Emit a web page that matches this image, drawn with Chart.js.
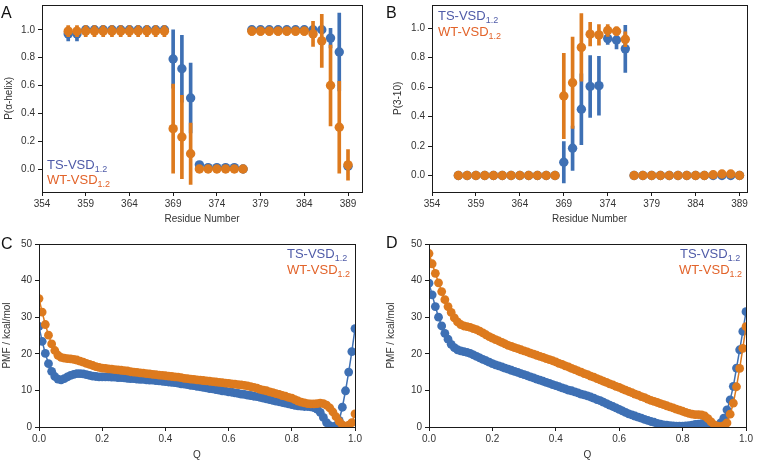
<!DOCTYPE html>
<html><head><meta charset="utf-8">
<script src="https://cdn.jsdelivr.net/npm/chart.js@4.4.0/dist/chart.umd.min.js"></script>
<style>
html,body{margin:0;padding:0;background:#fff;}
#wrap{position:relative;width:757px;height:465px;overflow:hidden;font-family:"Liberation Sans",Arial,Helvetica,sans-serif;}
canvas{position:absolute;}
.lbl{position:absolute;font-size:16px;line-height:16px;color:#111;}
.leg{position:absolute;font-size:13px;line-height:13px;white-space:nowrap;}
.leg sub{font-size:9px;vertical-align:baseline;position:relative;top:3px;}
.ts{color:#4f5ba8}.wt{color:#e2632a}
</style></head>
<body>
<div id="wrap">
<canvas id="cA" width="380" height="230" style="left:0;top:0"></canvas>
<canvas id="cB" width="377" height="230" style="left:380px;top:0"></canvas>
<canvas id="cC" width="380" height="235" style="left:0;top:230px"></canvas>
<canvas id="cD" width="377" height="235" style="left:380px;top:230px"></canvas>
<div class="lbl" style="left:1px;top:5px">A</div>
<div class="lbl" style="left:386px;top:5px">B</div>
<div class="lbl" style="left:1px;top:236px">C</div>
<div class="lbl" style="left:386px;top:235px">D</div>
<div class="leg ts" style="left:47px;top:157.5px">TS-VSD<sub>1.2</sub></div>
<div class="leg wt" style="left:47px;top:172.5px">WT-VSD<sub>1.2</sub></div>
<div class="leg ts" style="left:438px;top:9px">TS-VSD<sub>1.2</sub></div>
<div class="leg wt" style="left:438px;top:25px">WT-VSD<sub>1.2</sub></div>
<div class="leg ts" style="left:287px;top:246.5px">TS-VSD<sub>1.2</sub></div>
<div class="leg wt" style="left:287px;top:263px">WT-VSD<sub>1.2</sub></div>
<div class="leg ts" style="left:680px;top:246.5px">TS-VSD<sub>1.2</sub></div>
<div class="leg wt" style="left:679px;top:263px">WT-VSD<sub>1.2</sub></div>
</div>
<script>
// ---------- data ----------
const residues = [357,358,359,360,361,362,363,364,365,366,367,368,369,370,371,372,373,374,375,376,377,378,379,380,381,382,383,384,385,386,387,388,389];

// Panel A: P(alpha-helix)
const tsAlpha    = [0.97,0.97,1.0,1.0,1.0,1.0,1.0,1.0,1.0,1.0,1.0,1.0, 0.79,0.72,0.51, 0.03,0.01,0.01,0.01,0.01,0.0, 1.0,1.0,1.0,1.0,1.0,1.0,1.0, 1.0,1.0,0.94,0.84,0.02];
const tsAlphaErr = [0.05,0.05,0.01,0.01,0.01,0.01,0.01,0.01,0.01,0.01,0.01,0.01, 0.21,0.24,0.25, 0.02,0.01,0.01,0.01,0.01,0.0, 0.01,0.01,0.01,0.01,0.01,0.01,0.01, 0.01,0.01,0.07,0.28,0.02];
const wtAlpha    = [0.99,0.99,0.99,0.99,0.99,0.99,0.99,0.99,0.99,0.99,0.99,0.99, 0.29,0.23,0.11, 0,0,0,0,0,0, 0.99,0.99,0.99,0.99,0.99,0.99,0.99, 0.97,0.92,0.60,0.30,0.03];
const wtAlphaErr = [0.04,0.04,0.04,0.04,0.04,0.04,0.04,0.04,0.04,0.04,0.04,0.04, 0.32,0.30,0.22, 0.005,0.005,0.005,0.005,0.005,0.005, 0.03,0.03,0.03,0.03,0.03,0.03,0.03, 0.09,0.19,0.29,0.33,0.11];

// Panel B: P(3-10)
const ts310    = [0,0,0,0,0,0,0,0,0,0,0,0, 0.09,0.185,0.45,0.605,0.61,0.93,0.92,0.86, 0,0,0,0,0,0,0,0,0,0,0,0,0];
const ts310Err = [0,0,0,0,0,0,0,0,0,0,0,0, 0.14,0.15,0.24,0.21,0.20,0.04,0.06,0.16, 0,0,0,0,0,0,0,0,0,0,0,0,0];
const wt310    = [0,0,0,0,0,0,0,0,0,0,0,0, 0.54,0.63,0.87,0.96,0.955,0.985,0.98,0.925, 0,0,0,0,0,0,0,0,0,0.005,0.01,0.01,0];
const wt310Err = [0,0,0,0,0,0,0,0,0,0,0,0, 0.29,0.31,0.23,0.08,0.07,0.04,0.03,0.05, 0,0,0,0,0,0,0,0,0,0,0,0,0];

// Panels C, D: PMF vs Q
const qValues = [0,0.01,0.02,0.03,0.04,0.05,0.06,0.07,0.08,0.09,0.10,0.11,0.12,0.13,0.14,0.15,0.16,0.17,0.18,0.19,0.20,0.21,0.22,0.23,0.24,0.25,0.26,0.27,0.28,0.29,0.30,0.31,0.32,0.33,0.34,0.35,0.36,0.37,0.38,0.39,0.40,0.41,0.42,0.43,0.44,0.45,0.46,0.47,0.48,0.49,0.50,0.51,0.52,0.53,0.54,0.55,0.56,0.57,0.58,0.59,0.60,0.61,0.62,0.63,0.64,0.65,0.66,0.67,0.68,0.69,0.70,0.71,0.72,0.73,0.74,0.75,0.76,0.77,0.78,0.79,0.80,0.81,0.82,0.83,0.84,0.85,0.86,0.87,0.88,0.89,0.90,0.91,0.92,0.93,0.94,0.95,0.96,0.97,0.98,0.99,1.00];

const tsPmfC = [27.5,23.4,20.1,17.3,15.2,13.8,13.1,12.9,13.2,13.7,
 14.1,14.4,14.6,14.6,14.5,14.3,14.1,13.9,13.8,13.7,
 13.7,13.7,13.7,13.6,13.6,13.5,13.5,13.4,13.3,13.2,
 13.2,13.1,13.0,13.0,12.9,12.8,12.8,12.7,12.6,12.5,
 12.4,12.3,12.2,12.1,12.0,11.8,11.7,11.6,11.4,11.3,
 11.1,11.0,10.8,10.7,10.5,10.4,10.2,10.1,9.9,9.8,
 9.6,9.5,9.3,9.2,9.0,8.9,8.7,8.6,8.4,8.3,
 8.1,7.9,7.7,7.5,7.3,7.1,6.9,6.7,6.5,6.3,
 6.1,5.9,5.8,5.7,5.6,5.6,5.5,5.3,4.9,4.0,
 2.6,1.2,0.4,0.0,0.4,1.8,5.4,9.9,15.0,20.6,
 26.9];
const wtPmfC = [35.1,31.4,28.0,25.1,22.7,20.9,19.6,19.0,18.8,18.7,
 18.6,18.5,18.3,18.0,17.7,17.4,17.1,16.8,16.5,16.3,
 16.1,16.0,15.9,15.8,15.7,15.6,15.5,15.4,15.3,15.1,
 15.0,14.9,14.8,14.7,14.6,14.5,14.4,14.3,14.2,14.1,
 14.0,13.9,13.8,13.7,13.6,13.5,13.3,13.2,13.1,13.0,
 12.9,12.8,12.7,12.6,12.5,12.4,12.3,12.2,12.1,12.0,
 11.9,11.8,11.7,11.6,11.5,11.4,11.2,11.0,10.8,10.6,
 10.3,10.1,9.9,9.6,9.4,9.1,8.9,8.6,8.4,8.1,
 7.9,7.5,7.1,6.8,6.6,6.4,6.3,6.3,6.4,6.5,
 6.4,6.0,5.2,4.1,2.8,1.5,0.6,0.1,0.5,1.2,
 3.6];
const tsPmfD = [39.3,36.1,32.9,30.0,27.6,25.6,24.0,22.6,21.7,21.1,
 20.8,20.6,20.4,20.1,19.7,19.3,18.9,18.5,18.1,17.7,
 17.3,17.0,16.7,16.4,16.1,15.8,15.5,15.2,14.9,14.6,
 14.3,14.0,13.7,13.4,13.1,12.8,12.5,12.2,11.9,11.6,
 11.3,11.0,10.7,10.4,10.1,9.9,9.6,9.3,9.0,8.8,
 8.5,8.2,7.9,7.5,7.2,6.8,6.4,6.0,5.6,5.2,
 4.8,4.4,4.0,3.6,3.3,3.0,2.7,2.4,2.1,1.8,
 1.5,1.3,1.0,0.8,0.6,0.5,0.4,0.3,0.2,0.2,
 0.2,0.3,0.4,0.5,0.7,0.8,0.9,0.9,0.8,0.4,
 0.1,0.3,1.1,2.4,4.7,7.4,11.1,16.1,21.1,26.1,
 31.5];
const wtPmfD = [47.4,44.6,42.0,39.4,37.0,34.8,32.9,31.3,29.8,28.7,
 28.0,27.6,27.4,27.2,26.9,26.6,26.2,25.7,25.2,24.7,
 24.3,23.9,23.5,23.1,22.7,22.3,22.0,21.7,21.4,21.1,
 20.8,20.5,20.2,19.9,19.6,19.3,19.0,18.7,18.4,18.1,
 17.8,17.4,17.1,16.7,16.4,16.0,15.7,15.3,15.0,14.6,
 14.3,13.9,13.6,13.2,12.9,12.5,12.2,11.8,11.5,11.1,
 10.8,10.4,10.1,9.7,9.4,9.0,8.7,8.3,8.0,7.6,
 7.3,7.0,6.7,6.4,6.1,5.8,5.5,5.2,4.9,4.6,
 4.3,4.0,3.7,3.5,3.4,3.4,3.3,3.0,2.3,1.4,
 0.6,0.2,0.1,0.4,1.1,3.5,6.5,11.0,16.0,21.5,
 27.4];

// tick labels
const residueTicks = [354,359,364,369,374,379,384,389];
const probTicks = [0,0.2,0.4,0.6,0.8,1.0];
const qTicks = [0,0.2,0.4,0.6,0.8,1.0];
const pmfTicks = [0,10,20,30,40,50];

// ---------- styling / helpers ----------
const BLUE = '#3e70b4', ORANGE = '#dd7a1e', INK = '#1a1a1a', TXT = '#333';
const FONT = '"Liberation Sans", Arial, Helvetica, sans-serif';

const framePlugin = {
  id: 'frame',
  afterDatasetsDraw(chart) {
    const {ctx, chartArea: a} = chart;
    ctx.save();
    ctx.strokeStyle = INK; ctx.lineWidth = 1;
    const l = Math.round(a.left) + 0.5, t = Math.round(a.top) + 0.5;
    ctx.strokeRect(l, t, Math.round(a.right) - Math.round(a.left), Math.round(a.bottom) - Math.round(a.top));
    ctx.restore();
  }
};

function axis(o) {
  return {
    type: 'linear', min: o.min, max: o.max, offset: false,
    afterBuildTicks: s => { s.ticks = o.ticks.map(v => ({value: v})); },
    afterFit: s => {
      if (o.isX) { s.height = o.size; s.paddingLeft = 0; s.paddingRight = 0; }
      else { s.width = o.size; s.paddingTop = 0; s.paddingBottom = 0; }
    },
    grid: {display: true, drawOnChartArea: false, drawTicks: true, tickLength: 4, color: INK, lineWidth: 1, offset: false},
    border: {display: false},
    ticks: {color: TXT, font: {family: FONT, size: 10}, padding: o.isX ? 2 : 3, maxRotation: 0, autoSkip: false, callback: v => o.fmt(v)},
    title: {display: true, text: o.title, color: TXT, font: {family: FONT, size: 10},
            padding: o.isX ? {top: 0, bottom: o.tpad} : {top: o.tpad, bottom: 0}}
  };
}

function errBars(xs, vals, errs, color, order) {
  return {
    type: 'bar', order: order, grouped: false, barThickness: 3,
    backgroundColor: color, borderWidth: 0,
    data: xs.map((x, i) => ({x: x, y: [vals[i] - errs[i], vals[i] + errs[i]]}))
  };
}
function points(xs, vals, color, order, showLine, r) {
  return {
    type: 'line', order: order, showLine: showLine,
    borderColor: color, borderWidth: 1.5, backgroundColor: color,
    pointRadius: r, pointHoverRadius: r, pointBackgroundColor: color, pointBorderWidth: 0,
    data: xs.map((x, i) => ({x: x, y: vals[i]}))
  };
}

function makeChart(id, datasets, pad, xOpt, yOpt) {
  return new Chart(document.getElementById(id), {
    type: 'bar',
    data: {datasets: datasets},
    options: {
      responsive: false, maintainAspectRatio: false, animation: false,
      layout: {padding: pad},
      plugins: {legend: {display: false}, tooltip: {enabled: false}},
      scales: {x: axis(xOpt), y: axis(yOpt)}
    },
    plugins: [framePlugin]
  });
}

const fmt1 = v => Number(v).toFixed(1);
const fmt0 = v => String(v);

// Panel A
makeChart('cA', [
  errBars(residues, tsAlpha, tsAlphaErr, BLUE, 3),
  points(residues, tsAlpha, BLUE, 2, false, 4.7),
  errBars(residues, wtAlpha, wtAlphaErr, ORANGE, 1),
  points(residues, wtAlpha, ORANGE, 0, false, 4.7)
], {left: 0, top: 4, right: 18, bottom: 0},
 {isX: true, min: 354, max: 390.6, ticks: residueTicks, fmt: fmt0, title: 'Residue Number', size: 38, tpad: 5},
 {isX: false, min: -0.165, max: 1.18, ticks: probTicks, fmt: fmt1, title: 'P(α-helix)', size: 42, tpad: 3});

// Panel B
makeChart('cB', [
  errBars(residues, ts310, ts310Err, BLUE, 3),
  points(residues, ts310, BLUE, 2, false, 4.7),
  errBars(residues, wt310, wt310Err, ORANGE, 1),
  points(residues, wt310, ORANGE, 0, false, 4.7)
], {left: 0, top: 4, right: 10, bottom: 0},
 {isX: true, min: 354, max: 389.85, ticks: residueTicks, fmt: fmt0, title: 'Residue Number', size: 38, tpad: 5},
 {isX: false, min: -0.112, max: 1.16, ticks: probTicks, fmt: fmt1, title: 'P(3-10)', size: 52, tpad: 12});

// Panel C
makeChart('cC', [
  points(qValues, tsPmfC, BLUE, 1, true, 4.4),
  points(qValues, wtPmfC, ORANGE, 0, true, 4.4)
], {left: 0, top: 14, right: 25, bottom: 0},
 {isX: true, min: 0, max: 1, ticks: qTicks, fmt: fmt1, title: 'Q', size: 38, tpad: 4},
 {isX: false, min: 0, max: 50, ticks: pmfTicks, fmt: fmt0, title: 'PMF / kcal/mol', size: 39, tpad: 1.5});

// Panel D
makeChart('cD', [
  points(qValues, tsPmfD, BLUE, 1, true, 4.4),
  points(qValues, wtPmfD, ORANGE, 0, true, 4.4)
], {left: 0, top: 14, right: 11, bottom: 0},
 {isX: true, min: 0, max: 1, ticks: qTicks, fmt: fmt1, title: 'Q', size: 38, tpad: 4},
 {isX: false, min: 0, max: 50, ticks: pmfTicks, fmt: fmt0, title: 'PMF / kcal/mol', size: 49, tpad: 5});
</script>
</body></html>
